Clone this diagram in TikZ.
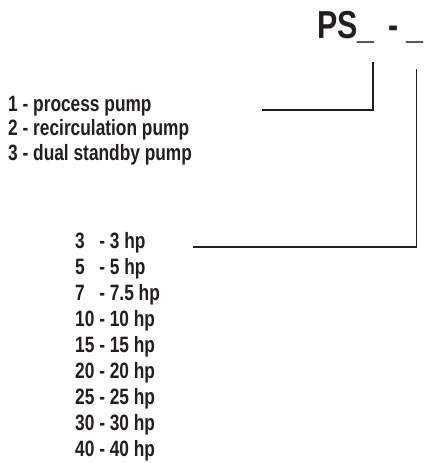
\documentclass[tikz,border=0pt]{standalone}
\usepackage{fontspec}
\setmainfont{Liberation Sans}[FakeStretch=0.78]
\definecolor{ink}{HTML}{231F20}
\begin{document}
\begin{tikzpicture}[x=1pt,y=-1pt,
  lbl/.style={anchor=base west,inner sep=0pt,text=ink,font=\fontsize{22.2}{26}\selectfont\bfseries},
  ttl/.style={anchor=base west,inner sep=0pt,text=ink,font=\fontsize{39}{44}\selectfont\bfseries},
  conn/.style={draw=ink,line width=1.6pt}]
\useasboundingbox (0,0) rectangle (424,463);
\node[ttl] (title) at (317,38) {PS\_\hspace{14pt}-\hspace{8pt}\_};
\node[lbl] (t1) at (8,111) {1 - process pump};
\node[lbl] (t2) at (8,135.5) {2 - recirculation pump};
\node[lbl] (t3) at (8,160) {3 - dual standby pump};
\foreach \n/\t [count=\k from 0] in {3\hphantom{0}/3 hp,5\hphantom{0}/5 hp,7\hphantom{0}/7.5 hp,10/10 hp,15/15 hp,20/20 hp,25/25 hp,30/30 hp,40/40 hp}
  \node[lbl] (h\k) at (75,248+26*\k) {\n{} - \t};
\coordinate (a1) at (373,62);
\coordinate (a2) at (373,110);
\coordinate (a3) at (262,110);
\coordinate (b1) at (416.5,69);
\coordinate (b2) at (416.5,247);
\coordinate (b3) at (193,247);
\draw[conn] (a1) -- (a2) -- (a3);
\draw[conn] (b1) -- (b2) -- (b3);
\end{tikzpicture}
\end{document}
